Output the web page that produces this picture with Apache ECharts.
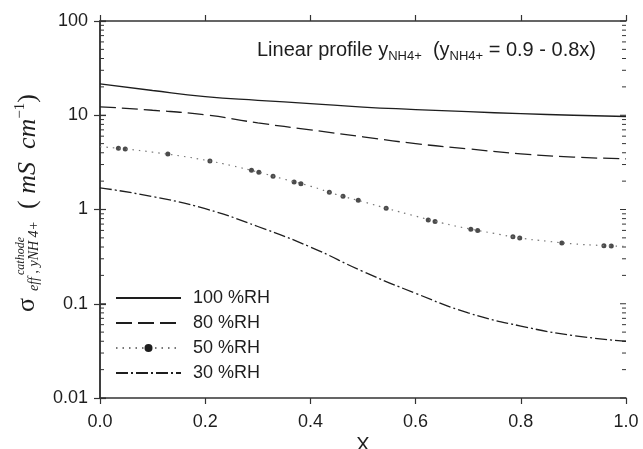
<!DOCTYPE html>
<html>
<head>
<meta charset="utf-8">
<script src="https://cdn.jsdelivr.net/npm/echarts@6/dist/echarts.min.js"></script>
<style>
  html, body { margin: 0; padding: 0; background: #fff; }
  #main { width: 643px; height: 449px; }
</style>
</head>
<body>
<div id="main"></div>
<script>
// x position (coarse grid) for the smooth curves
const xCoarse = [0, 0.1, 0.2, 0.3, 0.4, 0.5, 0.6, 0.7, 0.8, 0.9, 1.0];
const rh100 = [21.5, 18.3, 15.8, 14.4, 13.3, 12.2, 11.5, 10.9, 10.4, 10.0, 9.7];
const rh80 = [12.3, 11.3, 10.1, 8.3, 7.0, 5.9, 5.0, 4.4, 3.9, 3.6, 3.45];
const rh30 = [1.70, 1.37, 1.02, 0.66, 0.40, 0.22, 0.129, 0.080, 0.058, 0.046, 0.040];

// 50 %RH dotted curve (finer grid) and its black dots
const xFine = [0, 0.05, 0.1, 0.15, 0.2, 0.25, 0.3, 0.35, 0.4, 0.45, 0.5, 0.55, 0.6, 0.65, 0.7, 0.75, 0.8, 0.85, 0.9, 0.95, 1.0];
const rh50 = [4.64, 4.38, 4.06, 3.72, 3.34, 2.92, 2.50, 2.10, 1.77, 1.44, 1.21, 1.01, 0.85, 0.72, 0.626, 0.557, 0.497, 0.461, 0.432, 0.416, 0.405];
const dotX = [0.035, 0.048, 0.129, 0.209, 0.288, 0.302, 0.329, 0.369, 0.382, 0.436, 0.462, 0.491, 0.544, 0.624, 0.637, 0.705, 0.718, 0.785, 0.798, 0.878, 0.958, 0.972];
const dotY = [4.46, 4.39, 3.88, 3.27, 2.61, 2.48, 2.25, 1.96, 1.88, 1.52, 1.38, 1.25, 1.03, 0.774, 0.744, 0.617, 0.597, 0.514, 0.498, 0.441, 0.413, 0.410];

const seriesNames = ['100 %RH', '80 %RH', '50 %RH', '30 %RH'];
const xTickLabels = ['0.0', '0.2', '0.4', '0.6', '0.8', '1.0'];
const yTickLabels = ['0.01', '0.1', '1', '10', '100'];

// major + minor positions of the log axis ticks (drawn inward)
const decades = [0.01, 0.1, 1, 10];
const yTicksInner = [];
decades.forEach(d => {
  yTicksInner.push([0, d, 1]);
  for (let k = 2; k <= 9; k++) yTicksInner.push([0, +(d * k).toPrecision(3), 0]);
});
yTicksInner.push([0, 100, 1]);

const pair = (xs, ys) => xs.map((x, i) => [x, ys[i]]);

const ink = '#1e1e1e';
const sans = 'Liberation Sans';
const serif = 'Liberation Serif';

const chart = echarts.init(document.getElementById('main'));
chart.setOption({
  animation: false,
  backgroundColor: '#fff',
  grid: { left: 100, right: 17, top: 21, bottom: 51, outerBoundsMode: 'none', containLabel: false },
  xAxis: [
    {
      type: 'value', min: 0, max: 1, interval: 0.2, position: 'bottom',
      name: 'X', nameLocation: 'middle', nameGap: 33,
      nameTextStyle: { fontSize: 20, fontFamily: sans, color: ink },
      axisLine: { lineStyle: { color: '#333', width: 1.5 } },
      axisTick: { length: 6, lineStyle: { color: '#333', width: 1.2 } },
      axisLabel: {
        margin: 15, fontSize: 18, fontFamily: sans, color: ink,
        formatter: v => xTickLabels[Math.round(v / 0.2)]
      },
      splitLine: { show: false }
    },
    {
      type: 'value', min: 0, max: 1, interval: 0.2, position: 'top',
      axisLine: { lineStyle: { color: '#333', width: 1.5 } },
      axisTick: { length: 6, lineStyle: { color: '#333', width: 1.2 } },
      axisLabel: { show: false },
      splitLine: { show: false }
    }
  ],
  yAxis: [
    {
      type: 'log', logBase: 10, min: 0.01, max: 100, position: 'left',
      axisLine: { show: true, lineStyle: { color: '#333', width: 1.5 } },
      axisTick: { show: true, length: 6, lineStyle: { color: '#333', width: 1.2 } },
      axisLabel: {
        margin: 12, fontSize: 18, fontFamily: sans, color: ink,
        formatter: v => yTickLabels[Math.round(Math.log10(v)) + 2]
      },
      splitLine: { show: false }
    },
    {
      type: 'log', logBase: 10, min: 0.01, max: 100, position: 'right',
      axisLine: { show: true, lineStyle: { color: '#333', width: 1.5 } },
      axisTick: { show: true, length: 6, lineStyle: { color: '#333', width: 1.2 } },
      axisLabel: { show: false },
      splitLine: { show: false }
    }
  ],
  legend: {
    data: [
      { name: seriesNames[0], itemStyle: { opacity: 0 } },
      { name: seriesNames[1], itemStyle: { opacity: 0 } },
      { name: seriesNames[2], itemStyle: { color: ink } },
      { name: seriesNames[3], itemStyle: { opacity: 0 } }
    ],
    orient: 'vertical',
    left: 115, top: 289, padding: 0,
    itemWidth: 65, itemHeight: 10, itemGap: 7,
    textStyle: { fontSize: 18, fontFamily: sans, color: ink, padding: [0, 0, 0, 7] },
    selectedMode: false
  },
  series: [
    {
      name: seriesNames[0], type: 'line', smooth: true, showSymbol: false, symbol: 'none',
      data: pair(xCoarse, rh100),
      itemStyle: { color: ink },
      lineStyle: { color: ink, width: 1.3, type: 'solid' }
    },
    {
      name: seriesNames[1], type: 'line', smooth: true, showSymbol: false, symbol: 'none',
      data: pair(xCoarse, rh80),
      itemStyle: { color: ink },
      lineStyle: { color: ink, width: 1.3, type: [16, 6] }
    },
    {
      name: seriesNames[2], type: 'line', smooth: true, showSymbol: false, symbol: 'circle', symbolSize: 5,
      data: pair(xFine, rh50),
      itemStyle: { color: ink },
      lineStyle: { color: '#777', width: 1.2, type: [1.5, 5] }
    },
    {
      name: 'dots', type: 'scatter', symbol: 'circle', symbolSize: 5,
      data: pair(dotX, dotY),
      itemStyle: { color: ink }
    },
    {
      name: seriesNames[3], type: 'line', smooth: true, showSymbol: false, symbol: 'none',
      data: pair(xCoarse, rh30),
      itemStyle: { color: ink },
      lineStyle: { color: ink, width: 1.3, type: [12, 3, 2, 3] }
    },
    {
      name: 'ticks', type: 'custom', silent: true, clip: false,
      encode: { x: 0, y: 1 },
      data: yTicksInner,
      renderItem: (params, api) => {
        const v = api.value(1);
        const len = api.value(2) ? 6 : 4;
        const l = api.coord([0, v]);
        const r = api.coord([1, v]);
        const st = { stroke: '#333', lineWidth: 1 };
        return {
          type: 'group',
          children: [
            { type: 'line', shape: { x1: l[0], y1: l[1], x2: l[0] + len, y2: l[1] }, style: st },
            { type: 'line', shape: { x1: r[0] - len, y1: r[1], x2: r[0], y2: r[1] }, style: st }
          ]
        };
      }
    }
  ],
  graphic: [
    {
      type: 'text', x: 257, y: 50,
      style: {
        text: 'Linear profile y{s|NH4+}  (y{s|NH4+} = 0.9 - 0.8x)',
        fontSize: 20, fontFamily: sans, fill: ink, verticalAlign: 'middle',
        rich: { s: { fontSize: 13, fontFamily: sans, fill: ink, padding: [12, 0, 0, 0], verticalAlign: 'middle' } }
      }
    },
    {
      type: 'group', x: 30, y: 312, rotation: Math.PI / 2,
      children: [
        { type: 'text', x: 0, y: -3, style: { text: 'σ', fontSize: 26, fontFamily: serif, fill: ink, verticalAlign: 'middle' } },
        { type: 'text', x: 56, y: -9, style: { text: 'cathode', fontSize: 12, fontStyle: 'italic', fontFamily: serif, fill: ink, align: 'center', verticalAlign: 'middle' } },
        { type: 'text', x: 56, y: 4, style: { text: 'eff , yNH 4+', fontSize: 14, fontStyle: 'italic', fontFamily: serif, fill: ink, align: 'center', verticalAlign: 'middle' } },
        {
          type: 'text', x: 103, y: -2,
          style: {
            text: '( {i|mS  cm}{s|−1})',
            fontSize: 26, fontFamily: serif, fill: ink, verticalAlign: 'middle',
            rich: {
              i: { fontSize: 26, fontStyle: 'italic', fontFamily: serif, fill: ink, verticalAlign: 'middle' },
              s: { fontSize: 15, fontFamily: serif, fill: ink, padding: [0, 0, 15, 0], verticalAlign: 'middle' }
            }
          }
        }
      ]
    }
  ]
});
</script>
</body>
</html>
